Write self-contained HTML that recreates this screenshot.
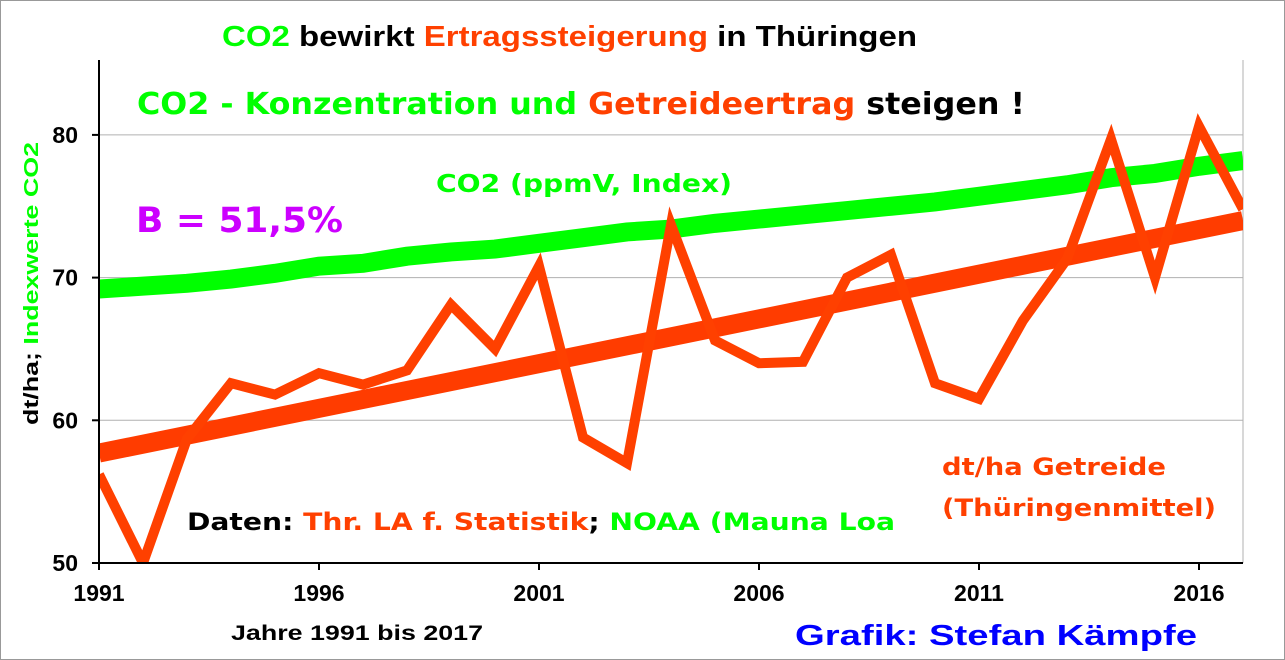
<!DOCTYPE html>
<html><head><meta charset="utf-8"><style>
body{margin:0;background:#fff}
svg{display:block}
.a{font-family:"Liberation Sans",sans-serif;font-weight:bold}
.d{font-family:"DejaVu Sans",sans-serif;font-weight:bold}
</style></head><body>
<svg id="c" width="1285" height="660">
<rect x="0.5" y="0.5" width="1284" height="659" fill="#fff" stroke="#999"/>
<defs><clipPath id="pc"><rect x="99" y="60" width="1144" height="503"/></clipPath></defs>
<g id="grid"></g>
<g id="series" clip-path="url(#pc)"></g>
<g id="axes"></g>
<text class="a" x="222" y="46" font-size="29" lengthAdjust="spacingAndGlyphs" textLength="695"><tspan fill="#00ff00">CO2</tspan><tspan fill="#000"> bewirkt </tspan><tspan fill="#ff4000">Ertragssteigerung</tspan><tspan fill="#000"> in Thüringen</tspan></text>
<text class="d" x="137" y="114" font-size="30" lengthAdjust="spacingAndGlyphs" textLength="888"><tspan fill="#00ff00">CO2 - Konzentration und </tspan><tspan fill="#ff4000">Getreideertrag</tspan><tspan fill="#000"> steigen !</tspan></text>
<text class="d" x="436" y="192" font-size="25" fill="#00ff00" lengthAdjust="spacingAndGlyphs" textLength="296">CO2 (ppmV, Index)</text>
<text class="d" x="136" y="232" font-size="35" fill="#cc00ff" lengthAdjust="spacingAndGlyphs" textLength="207">B = 51,5%</text>
<text class="d" x="942" y="475" font-size="24" fill="#ff4000" lengthAdjust="spacingAndGlyphs" textLength="224">dt/ha Getreide</text>
<text class="d" x="942" y="516" font-size="24" fill="#ff4000" lengthAdjust="spacingAndGlyphs" textLength="274">(Thüringenmittel)</text>
<text class="d" x="187" y="530" font-size="24" lengthAdjust="spacingAndGlyphs" textLength="708"><tspan fill="#000">Daten: </tspan><tspan fill="#ff4000">Thr. LA f. Statistik</tspan><tspan fill="#000">; </tspan><tspan fill="#00ff00">NOAA (Mauna Loa</tspan></text>
<text class="a" x="231" y="640" font-size="21" fill="#000" lengthAdjust="spacingAndGlyphs" textLength="252">Jahre 1991 bis 2017</text>
<text class="a" x="795" y="645" font-size="29" fill="#0000ff" lengthAdjust="spacingAndGlyphs" textLength="402">Grafik: Stefan Kämpfe</text>
<text class="a" transform="translate(38,425) rotate(-90)" font-size="20" lengthAdjust="spacingAndGlyphs" textLength="283"><tspan fill="#000">dt/ha; </tspan><tspan fill="#00ff00">Indexwerte CO2</tspan></text>
</svg>
<script>
const years=[1991,1992,1993,1994,1995,1996,1997,1998,1999,2000,2001,2002,2003,2004,2005,2006,2007,2008,2009,2010,2011,2012,2013,2014,2015,2016,2017];
const yieldVals=[56.2,50,58.7,62.6,61.8,63.3,62.5,63.5,68.1,65,70.8,58.8,57,73.7,65.6,64,64.1,70,71.6,62.6,61.5,67,71.3,79.7,70,80.6,74.8];
const co2Vals=[69.2,69.4,69.6,69.9,70.3,70.8,71.0,71.5,71.8,72.0,72.4,72.8,73.2,73.4,73.8,74.1,74.4,74.7,75.0,75.3,75.7,76.1,76.5,77.0,77.3,77.8,78.2];
const trendEnds=[57.7,74.0];
const yTicks=[50,60,70,80];
const xTicks=[1991,1996,2001,2006,2011,2016];
const NS="http://www.w3.org/2000/svg";
const X=y=>99+(y-1991)*44, Y=v=>563-(v-50)*14.27;
function mk(t,a,p){const e=document.createElementNS(NS,t);for(const k in a)e.setAttribute(k,a[k]);p.appendChild(e);return e;}
const g=document.getElementById('grid'),s=document.getElementById('series'),ax=document.getElementById('axes');
yTicks.forEach(v=>{if(v>50){const l=mk('line',{x1:99,x2:1243,y1:Y(v),y2:Y(v),stroke:'#b0b0b0','stroke-width':1},g);

}
const t=mk('line',{x1:92,x2:99,y1:Y(v),y2:Y(v),stroke:'#000','stroke-width':2},ax);


const tx=mk('text',{x:78,y:Y(v)+8,'text-anchor':'end','font-size':23,'class':'a'},ax);tx.textContent=v;

});
mk('line',{x1:1243,x2:1243,y1:60,y2:563,stroke:'#b0b0b0'},g);
const co2=mk('polyline',{points:years.map((y,i)=>X(y)+','+Y(co2Vals[i])).join(' '),fill:'none',stroke:'#00ff00','stroke-width':19},s);


const tr=mk('line',{x1:X(1991),y1:Y(trendEnds[0]),x2:X(2017),y2:Y(trendEnds[1]),stroke:'#ff3c00','stroke-width':19},s);


const yl=mk('polyline',{points:years.map((y,i)=>X(y)+','+Y(yieldVals[i])).join(' '),fill:'none',stroke:'#ff4000','stroke-width':10,'stroke-linejoin':'miter'},s);


const ya=mk('line',{x1:99,x2:99,y1:60,y2:564,stroke:'#000','stroke-width':2},ax);


const xa=mk('line',{x1:92,x2:1243,y1:563,y2:563,stroke:'#000','stroke-width':2},ax);


xTicks.forEach(y=>{const t=mk('line',{x1:X(y),x2:X(y),y1:563,y2:570,stroke:'#000','stroke-width':2},ax);


const tx=mk('text',{x:X(y),y:601,'text-anchor':'middle','font-size':23,'class':'a'},ax);tx.textContent=y;

});
</script>
</body></html>
